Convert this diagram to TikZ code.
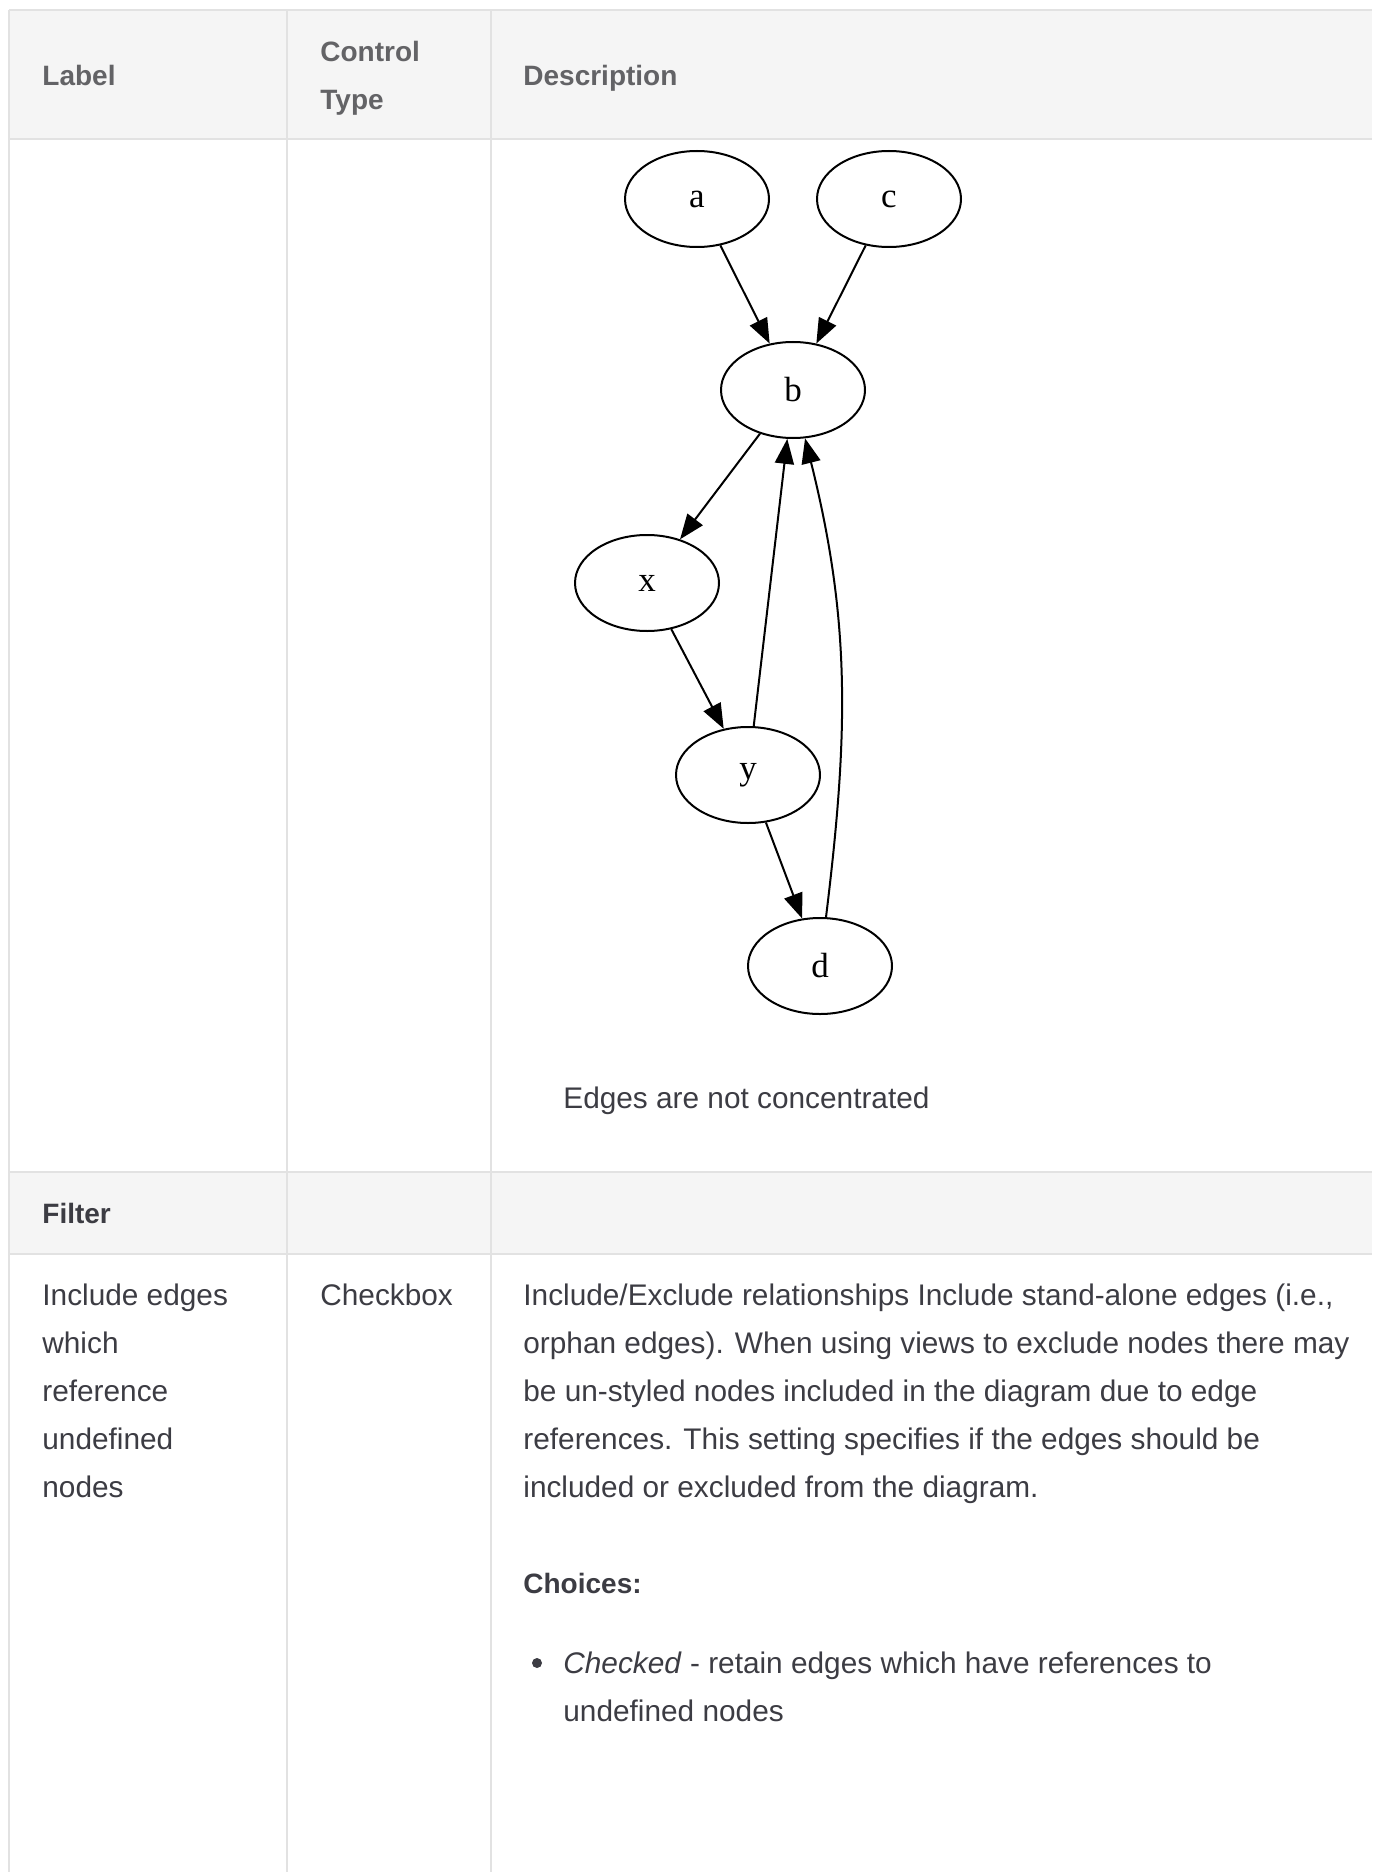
\documentclass[tikz,border=0pt]{standalone}
\usepackage{fontspec}
\setmainfont{Liberation Sans}
\newfontfamily\dotfont{Liberation Serif}
\usetikzlibrary{arrows.meta,shapes.geometric}

\definecolor{rulegray}{HTML}{E2E2E2}
\definecolor{headbg}{HTML}{F5F5F5}
\definecolor{headtext}{HTML}{636366}
\definecolor{bodytext}{HTML}{3C3C43}

% multi-line cells sit on the baseline of their last line
\tikzset{
  cell/.style={anchor=base west, inner sep=0pt, text=bodytext, align=left,
    font=\fontsize{14.9}{24}\selectfont},
  headcell/.style={cell, text=headtext, font=\fontsize{14}{24}\selectfont\bfseries},
  gnode/.style={draw, ellipse, line width=1pt, minimum width=72pt, minimum height=48pt,
    inner sep=0pt, font=\dotfont\fontsize{17.5}{20}\selectfont},
  gedge/.style={line width=1pt, -{Triangle[length=12.5pt,width=9.5pt]}},
}

\begin{document}
\begin{tikzpicture}[x=0.5pt,y=0.5pt]
\useasboundingbox (0,0) rectangle (1372,-1872);
% shaded rows
\fill[headbg] (9,-10) rectangle (1372,-139);
\fill[headbg] (9,-1172) rectangle (1372,-1254);
% column rules
\foreach \x in {9,287,491}{
  \draw[rulegray, line width=0.8pt] (\x,-10) -- (\x,-1872);
}
% row rules
\foreach \y in {10,139,1172,1254}{
  \draw[rulegray, line width=1.2pt] (9,-\y) -- (1372,-\y);
}

% header
\node[headcell] (hlabel) at (42,-86) {Label};
\node[headcell] (htype) at (320,-110) {Control\\Type};
\node[headcell] (hdesc) at (523,-86) {Description};

% graph
\node[gnode] (a) at (697,-199) {a};
\node[gnode] (c) at (889,-199) {c};
\node[gnode] (b) at (793,-390) {b};
\node[gnode] (x) at (647,-583) {x};
\node[gnode] (y) at (748,-775) {y};
\node[gnode] (d) at (820,-966) {d};

\draw[gedge] (a) -- (b);
\draw[gedge] (c) -- (b);
\draw[gedge] (b) -- (x);
\draw[gedge] (x) -- (y);
\draw[gedge] (y) -- (b);
\draw[gedge] (y) -- (d);
\draw[gedge] (d) to[out=83, in=-76] (b);

\node[cell] (caption) at (563,-1108) {Edges are not concentrated};

% filter section
\node[headcell, text=bodytext] (filter) at (42,-1223) {Filter};

\node[cell] (olabel) at (42,-1497) {Include edges\\which\\reference\\undefined\\nodes};
\node[cell] (otype) at (320,-1305) {Checkbox};
\node[cell] (odesc) at (523,-1497) {Include/Exclude relationships Include stand-alone edges (i.e.,\\
  orphan edges). When using views to exclude nodes there may\\
  be un-styled nodes included in the diagram due to edge\\
  references. This setting specifies if the edges should be\\
  included or excluded from the diagram.};
\node[headcell, text=bodytext] (choices) at (523,-1593) {Choices:};
\node[circle, fill=bodytext, inner sep=0pt, minimum size=5pt] (bullet) at (537,-1663) {};
\node[cell] (checked) at (563,-1721) {\textit{Checked} - retain edges which have references to\\
  undefined nodes};
\end{tikzpicture}
\end{document}
